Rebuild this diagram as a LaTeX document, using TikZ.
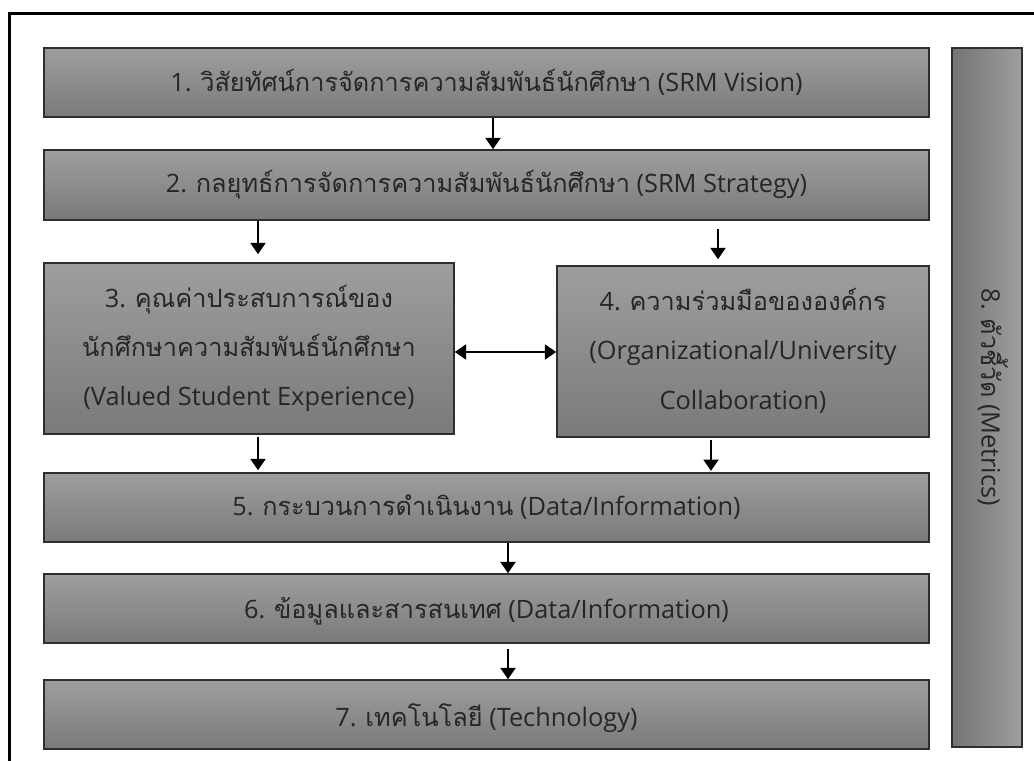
\documentclass[tikz,border=0pt]{standalone}
\usepackage{fontspec}
\setmainfont{Open Sans}
\newfontfamily\thai[Script=Thai]{Loma}
\usetikzlibrary{arrows.meta,fit}
\definecolor{boxtop}{HTML}{9E9E9E}
\definecolor{boxbot}{HTML}{7A7A7A}
\definecolor{edge}{HTML}{2E2E2E}
\definecolor{ink}{HTML}{262626}
\begin{document}
\begin{tikzpicture}[x=0.75pt,y=-0.75pt,
  box/.style={draw=edge, line width=1.1pt, top color=boxtop, bottom color=boxbot, inner sep=0pt},
  sidebox/.style={box, left color=boxbot!95!black, right color=boxtop},
  lbl/.style={text=ink, font=\fontsize{19}{37}\selectfont, align=center, inner sep=0pt},
  tip/.tip={Triangle[width=11pt,length=8.5pt]},
  arr/.style={line width=2.2pt, -tip},
  both/.style={line width=2.2pt, tip-tip}]
\useasboundingbox (0,0) rectangle (1034,760);
\clip (0,0) rectangle (1034,760);
% outer frame, running off the page on the right and at the bottom
\draw[line width=2.4pt] (9.5,13.5) rectangle (1060,790);

% layers of the model
\node[box, fit={(44,48) (929,117)}] (b1) {};
\node[box, fit={(44,150) (929,220)}] (b2) {};
\node[box, fit={(44,263) (454,434)}] (b3) {};
\node[box, fit={(557,266) (929,437)}] (b4) {};
\node[box, fit={(44,473) (929,542)}] (b5) {};
\node[box, fit={(44,574) (929,643)}] (b6) {};
\node[box, fit={(44,680) (929,749)}] (b7) {};
\node[sidebox, fit={(952,48) (1022,747)}] (b8) {};

\node[lbl] (t1) at (b1.center)
  {1. {\thai วิสัยทัศน์การจัดการความสัมพันธ์นักศึกษา} (SRM Vision)};
\node[lbl] (t2) at (b2.center)
  {2. {\thai กลยุทธ์การจัดการความสัมพันธ์นักศึกษา} (SRM Strategy)};
\node[lbl] (t3) at (b3.center)
  {3. {\thai คุณค่าประสบการณ์ของ}\\{\thai นักศึกษาความสัมพันธ์นักศึกษา}\\(Valued Student Experience)};
\node[lbl] (t4) at ([yshift=0.5pt]b4.center)
  {4. {\thai ความร่วมมือขององค์กร}\\(Organizational/University\\Collaboration)};
\node[lbl] (t5) at (b5.center)
  {5. {\thai กระบวนการดำเนินงาน} (Data/Information)};
\node[lbl] (t6) at ([yshift=-2.25pt]b6.center)
  {6. {\thai ข้อมูลและสารสนเทศ} (Data/Information)};
\node[lbl] (t7) at ([yshift=-3pt]b7.center)
  {7. {\thai เทคโนโลยี} (Technology)};
\node[lbl, rotate=-90] (t8) at ([xshift=4.5pt]b8.center)
  {8. {\thai ตัวชี้วัด} (Metrics)};

% arrow columns
\coordinate (xa) at (493,0);
\coordinate (xb) at (508,0);
\coordinate (xl) at (258,0);
\coordinate (xr) at (718,0);
\coordinate (xs) at (711,0);
\coordinate (ym) at (0,352);

\draw[arr] (b1.south -| xa) -- (b2.north -| xa);
\draw[arr, shorten >=6pt] (b2.south -| xl) -- (b3.north -| xl);
\draw[arr, shorten <=6.5pt, shorten >=4.5pt] (b2.south -| xr) -- (b4.north -| xr);
\draw[both] (b3.east |- ym) -- (b4.west |- ym);
\draw[arr, shorten <=2pt, shorten >=1.5pt] (b3.south -| xl) -- (b5.north -| xl);
\draw[arr, shorten <=2pt, shorten >=1pt] (b4.south -| xs) -- (b5.north -| xs);
\draw[arr] (b5.south -| xb) -- (b6.north -| xb);
\draw[arr, shorten <=4pt] (b6.south -| xb) -- (b7.north -| xb);
\end{tikzpicture}
\end{document}
